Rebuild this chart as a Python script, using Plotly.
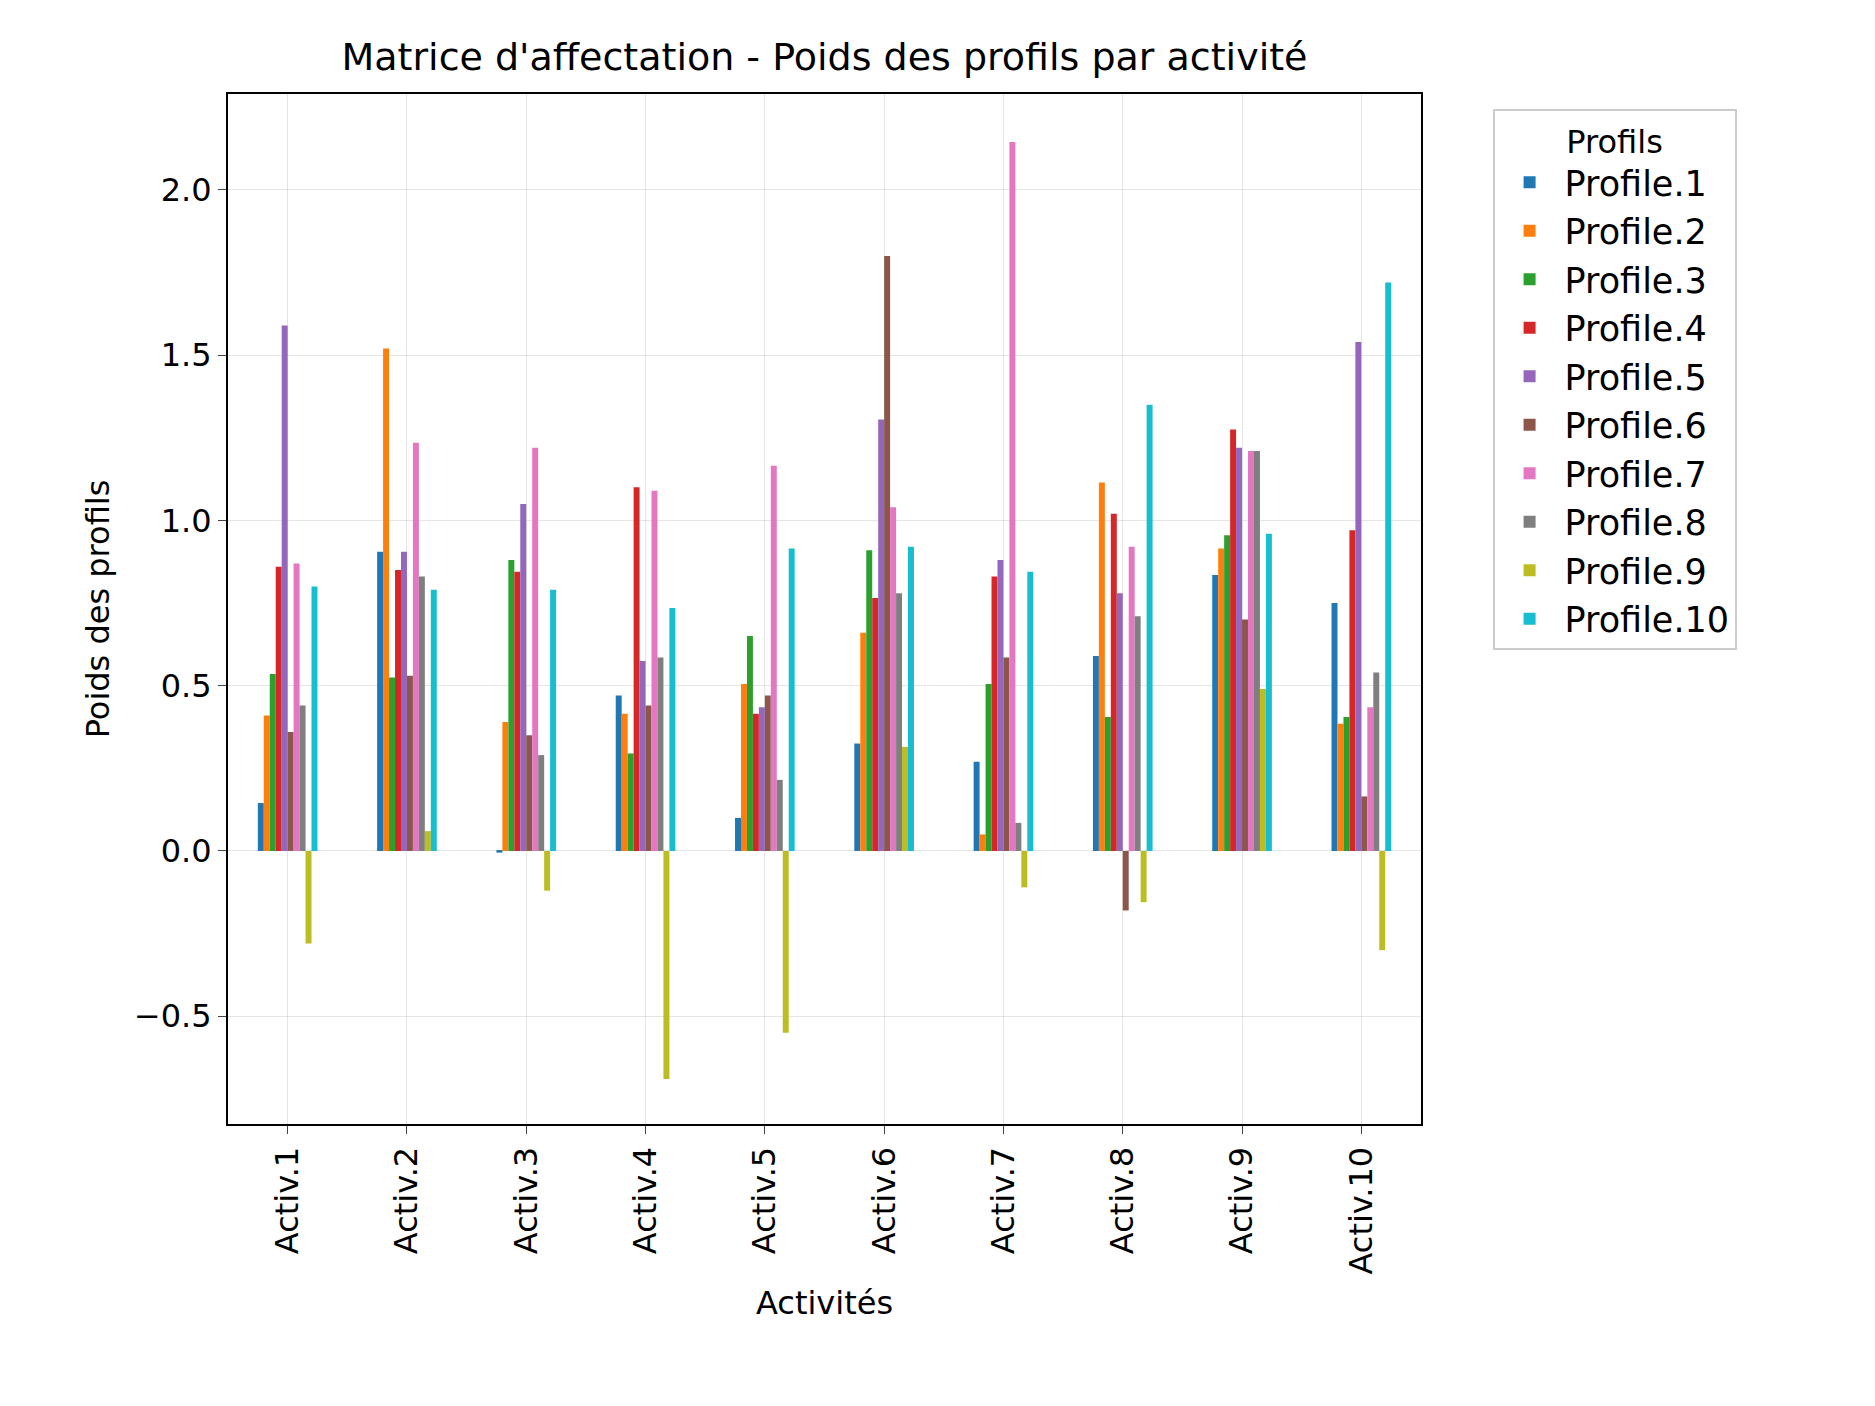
import plotly.graph_objects as go

activites = [f"Activ.{i}" for i in range(1, 11)]
profils = [f"Profile.{i}" for i in range(1, 11)]
couleurs = ["#1f77b4", "#ff7f0e", "#2ca02c", "#d62728", "#9467bd",
            "#8c564b", "#e377c2", "#7f7f7f", "#bcbd22", "#17becf"]

# poids[activité] = valeurs des profils 1..10
activ1 = [0.145, 0.41, 0.535, 0.86, 1.59, 0.36, 0.87, 0.44, -0.28, 0.80]
activ2 = [0.905, 1.52, 0.525, 0.85, 0.905, 0.53, 1.235, 0.83, 0.06, 0.79]
activ3 = [-0.005, 0.39, 0.88, 0.845, 1.05, 0.35, 1.22, 0.29, -0.12, 0.79]
activ4 = [0.47, 0.415, 0.295, 1.10, 0.575, 0.44, 1.09, 0.585, -0.69, 0.735]
activ5 = [0.10, 0.505, 0.65, 0.415, 0.435, 0.47, 1.165, 0.215, -0.55, 0.915]
activ6 = [0.325, 0.66, 0.91, 0.765, 1.305, 1.80, 1.04, 0.78, 0.315, 0.92]
activ7 = [0.27, 0.05, 0.505, 0.83, 0.88, 0.585, 2.145, 0.085, -0.11, 0.845]
activ8 = [0.59, 1.115, 0.405, 1.02, 0.78, -0.18, 0.92, 0.71, -0.155, 1.35]
activ9 = [0.835, 0.915, 0.955, 1.275, 1.22, 0.70, 1.21, 1.21, 0.49, 0.96]
activ10 = [0.75, 0.385, 0.405, 0.97, 1.54, 0.165, 0.435, 0.54, -0.30, 1.72]
rows = [activ1, activ2, activ3, activ4, activ5, activ6, activ7, activ8, activ9, activ10]

fig = go.Figure()
for j, (p, c) in enumerate(zip(profils, couleurs)):
    fig.add_trace(go.Bar(x=activites, y=[r[j] for r in rows], name=p,
                         marker_color=c, marker_line_width=0))

font = "DejaVu Sans, sans-serif"
fig.update_layout(
    width=1875, height=1406, barmode="group", bargap=0.5, bargroupgap=0,
    plot_bgcolor="white", paper_bgcolor="white",
    font=dict(family=font, size=32, color="black"),
    margin=dict(l=220, r=462, t=86, b=290),
    title=dict(text="Matrice d'affectation - Poids des profils par activité",
               xref="paper", x=0.5, xanchor="center", y=0.975,
               font=dict(size=38)),
    xaxis=dict(title=dict(text="Activités", standoff=18, font=dict(size=32)),
               tickangle=-90, tickfont=dict(size=32),
               range=[-0.5, 9.5], showline=True, mirror=True, linecolor="black",
               linewidth=2, ticks="outside", ticklen=8, showgrid=True,
               gridcolor="rgba(0,0,0,0.1)"),
    yaxis=dict(title=dict(text="Poids des profils", font=dict(size=32)),
               range=[-0.826, 2.29], tickfont=dict(size=32),
               tickvals=[-0.5, 0, 0.5, 1.0, 1.5, 2.0],
               ticktext=["\u22120.5", "0.0", "0.5", "1.0", "1.5", "2.0"],
               showline=True, mirror=True, linecolor="black", linewidth=2,
               ticks="outside", ticklen=8, gridcolor="rgba(0,0,0,0.1)",
               zeroline=False),
    legend=dict(title=dict(text="Profils", side="top center", font=dict(size=32)),
                x=1.06, y=0.985, xanchor="left", yanchor="top",
                bordercolor="#cccccc", borderwidth=2, font=dict(size=35),
                itemwidth=60, tracegroupgap=4),
)
fig.write_html("out.html")
